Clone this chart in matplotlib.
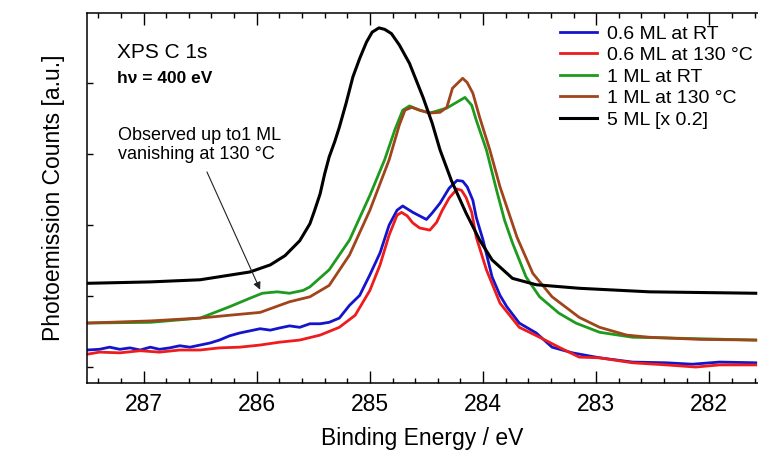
import numpy as np
import matplotlib
matplotlib.use("Agg")
from matplotlib import pyplot as plt
from matplotlib.ticker import MultipleLocator, NullFormatter

plt.rcParams["font.family"] = ["Liberation Sans", "DejaVu Sans"]

# binding energy (eV) and photoemission counts (a.u.)
be_5ml = [287.50, 286.94, 286.50, 286.06, 285.88, 285.75, 285.62, 285.53, 285.49, 285.44,
          285.40, 285.36, 285.31, 285.27, 285.21, 285.15, 285.09, 285.03, 284.98, 284.92,
          284.87, 284.81, 284.74, 284.65, 284.53, 284.45, 284.38, 284.28, 284.15, 284.03,
          283.92, 283.74, 283.53, 283.15, 282.53, 281.59]
cnt_5ml = [1.18, 1.20, 1.23, 1.34, 1.44, 1.57, 1.78, 2.02, 2.20, 2.44,
           2.72, 2.96, 3.18, 3.38, 3.72, 4.09, 4.35, 4.58, 4.72, 4.78,
           4.76, 4.70, 4.54, 4.28, 3.80, 3.44, 3.06, 2.63, 2.17, 1.79,
           1.51, 1.25, 1.16, 1.11, 1.06, 1.04]

be_1ml_rt = [287.50, 286.94, 286.50, 286.24, 286.06, 285.95, 285.82, 285.71, 285.59, 285.53,
             285.36, 285.18, 285.00, 284.87, 284.78, 284.71, 284.65, 284.56, 284.47, 284.32,
             284.16, 284.10, 284.06, 283.97, 283.88, 283.81, 283.74, 283.62, 283.50, 283.33,
             283.18, 282.97, 282.68, 282.38, 281.59]
cnt_1ml_rt = [0.62, 0.63, 0.69, 0.85, 0.97, 1.04, 1.06, 1.04, 1.08, 1.13,
              1.37, 1.79, 2.42, 2.92, 3.34, 3.62, 3.68, 3.62, 3.58, 3.65,
              3.80, 3.69, 3.48, 3.06, 2.49, 2.07, 1.75, 1.27, 0.99, 0.76,
              0.62, 0.49, 0.42, 0.41, 0.38]

be_1ml_130 = [287.50, 286.94, 286.50, 286.24, 285.97, 285.71, 285.53, 285.36, 285.18, 285.00,
              284.83, 284.74, 284.69, 284.63, 284.56, 284.47, 284.38, 284.32, 284.27, 284.18,
              284.14, 284.09, 284.03, 283.94, 283.85, 283.70, 283.56, 283.39, 283.15, 282.97,
              282.73, 282.53, 282.09, 281.59]
cnt_1ml_130 = [0.62, 0.65, 0.69, 0.73, 0.77, 0.92, 0.99, 1.15, 1.58, 2.21,
               2.92, 3.41, 3.62, 3.66, 3.62, 3.58, 3.59, 3.66, 3.93, 4.07,
               4.01, 3.86, 3.52, 3.06, 2.54, 1.83, 1.32, 0.99, 0.70, 0.56,
               0.45, 0.42, 0.39, 0.38]

be_06ml_rt = [287.50, 287.39, 287.30, 287.21, 287.12, 287.03, 286.94, 286.86, 286.77, 286.68,
              286.59, 286.50, 286.41, 286.33, 286.24, 286.15, 286.06, 285.97, 285.88, 285.80,
              285.71, 285.62, 285.53, 285.44, 285.36, 285.27, 285.18, 285.09, 285.00, 284.91,
              284.83, 284.76, 284.71, 284.62, 284.56, 284.50, 284.45, 284.38, 284.30, 284.23,
              284.18, 284.14, 284.09, 284.06, 284.00, 283.92, 283.85, 283.79, 283.68, 283.53,
              283.39, 283.21, 282.97, 282.68, 282.38, 282.15, 281.91, 281.59]
cnt_06ml_rt = [0.24, 0.25, 0.28, 0.25, 0.27, 0.24, 0.28, 0.25, 0.27, 0.30,
               0.28, 0.31, 0.34, 0.38, 0.44, 0.48, 0.51, 0.54, 0.52, 0.55,
               0.58, 0.56, 0.61, 0.61, 0.63, 0.69, 0.87, 1.01, 1.30, 1.61,
               2.00, 2.21, 2.27, 2.18, 2.13, 2.08, 2.17, 2.31, 2.52, 2.63,
               2.62, 2.54, 2.35, 2.11, 1.79, 1.27, 1.01, 0.85, 0.62, 0.48,
               0.28, 0.20, 0.13, 0.07, 0.06, 0.04, 0.07, 0.06]

be_06ml_130 = [287.50, 287.39, 287.21, 287.03, 286.86, 286.68, 286.50, 286.33, 286.15, 285.97,
               285.80, 285.62, 285.44, 285.27, 285.13, 285.00, 284.91, 284.83, 284.76, 284.72,
               284.67, 284.62, 284.56, 284.47, 284.41, 284.36, 284.30, 284.23, 284.19, 284.15,
               284.10, 284.06, 283.97, 283.85, 283.68, 283.50, 283.33, 283.15, 282.97, 282.68,
               282.38, 282.12, 281.91, 281.59]
cnt_06ml_130 = [0.18, 0.21, 0.20, 0.23, 0.21, 0.24, 0.24, 0.27, 0.28, 0.31,
                0.35, 0.38, 0.45, 0.56, 0.73, 1.08, 1.44, 1.86, 2.14, 2.18,
                2.13, 2.03, 1.96, 1.93, 2.04, 2.21, 2.38, 2.51, 2.49, 2.39,
                2.18, 1.83, 1.37, 0.90, 0.56, 0.42, 0.28, 0.14, 0.13, 0.06,
                0.03, 0.00, 0.03, 0.03]

fig = plt.figure(figsize=(7.58, 4.55), dpi=100)
ax = fig.add_axes([87 / 758, 1 - 383 / 455, 1 - 87 / 758, 370 / 455])

ax.plot(be_06ml_rt, cnt_06ml_rt, color="#1414cc", lw=2.0, label="0.6 ML at RT")
ax.plot(be_06ml_130, cnt_06ml_130, color="#ee1c1c", lw=2.0, label="0.6 ML at 130 °C")
ax.plot(be_1ml_rt, cnt_1ml_rt, color="#1e9a1e", lw=2.0, label="1 ML at RT")
ax.plot(be_1ml_130, cnt_1ml_130, color="#a0441c", lw=2.0, label="1 ML at 130 °C")
ax.plot(be_5ml, cnt_5ml, color="black", lw=2.2, label="5 ML [x 0.2]")

ax.set_xlim(287.5, 281.57)
ax.set_ylim(-0.225, 4.99)
ax.xaxis.set_major_locator(MultipleLocator(1))
ax.xaxis.set_minor_locator(MultipleLocator(0.2))
ax.yaxis.set_major_locator(MultipleLocator(1))
ax.yaxis.set_major_formatter(NullFormatter())
ax.tick_params(axis="x", which="major", direction="in", length=8.5, width=1,
               top=True, labelsize=16.5, pad=7)
ax.tick_params(axis="x", which="minor", direction="in", length=3.8, width=1, top=True)
ax.tick_params(axis="y", which="major", direction="in", length=4, width=1, right=False)
ax.spines["right"].set_visible(False)
for s in ["left", "top", "bottom"]:
    ax.spines[s].set_linewidth(1.1)

ax.set_xlabel("Binding Energy / eV", fontsize=16.5, labelpad=8)
ax.set_ylabel("Photoemission Counts [a.u.]", fontsize=16.5, labelpad=12)

fig.text(117 / 758, 1 - 58 / 455, "XPS C 1s", fontsize=15, va="baseline")
fig.text(117 / 758, 1 - 83 / 455, "hν = 400 eV", fontsize=12.5, fontweight="bold",
         va="baseline")
fig.text(118 / 758, 1 - 127 / 455, "Observed up to1 ML\nvanishing at 130 °C",
         fontsize=13, va="top", linespacing=1.15)
ax.annotate("", xy=(285.97, 1.09), xytext=(286.44, 2.75),
            arrowprops=dict(arrowstyle="-|>", color="#222222", lw=0.8,
                            mutation_scale=11, shrinkA=0, shrinkB=0))

ax.legend(loc="upper left", bbox_to_anchor=(560 / 758, 1 - 25 / 455),
          bbox_transform=fig.transFigure, frameon=False, fontsize=14,
          borderpad=0, borderaxespad=0, handlelength=1.9, handletextpad=0.5,
          labelspacing=0.2)

plt.savefig("out.png", dpi=100)
